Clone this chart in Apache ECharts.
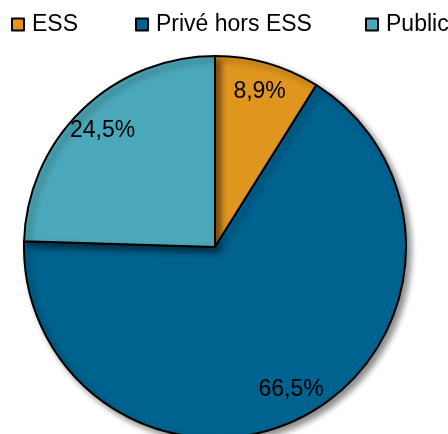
<!DOCTYPE html>
<html>
<head>
<meta charset="utf-8">
<script src="https://cdn.jsdelivr.net/npm/echarts@6/dist/echarts.min.js"></script>
<style>
  html, body { margin: 0; padding: 0; background: #fff; }
  #chart { width: 448px; height: 434px; }
</style>
</head>
<body>
<div id="chart"></div>
<script>
// parts de l'emploi par secteur
const categories = ['ESS', 'Privé hors ESS', 'Public']
const values = [8.9, 66.5, 24.5]
const colors = ['#E0961E', '#00628F', '#4BA8BA']

const font = '"Liberation Sans", Arial, sans-serif'
const pieData = categories.map((name, i) => ({ name, value: values[i] }))
const legendLeft = [11, 135, 365]

const myChart = echarts.init(document.getElementById('chart'))

const option = {
  animation: false,
  color: colors,
  legend: categories.map((name, i) => ({
    data: [name],
    left: legendLeft[i],
    top: 13,
    padding: 0,
    icon: 'rect',
    itemWidth: 12,
    itemHeight: 12,
    itemGap: 0,
    itemStyle: { borderColor: '#000', borderWidth: 2 },
    textStyle: { fontFamily: font, fontSize: 23, color: '#000', padding: [0, 0, 0, 3] },
    selectedMode: false
  })),
  series: [
    {
      type: 'pie',
      center: [215, 247],
      radius: 191,
      startAngle: 90,
      clockwise: true,
      data: pieData,
      label: { show: false },
      labelLine: { show: false },
      emphasis: { disabled: true },
      itemStyle: {
        borderColor: '#000',
        borderWidth: 2,
        shadowColor: 'rgba(0,0,0,0.45)',
        shadowBlur: 6,
        shadowOffsetX: 4,
        shadowOffsetY: 4
      }
    },
    {
      // serie transparente pour placer les etiquettes vers le bord
      type: 'pie',
      center: [215, 247],
      radius: [126, 191],
      startAngle: 90,
      clockwise: true,
      silent: true,
      data: pieData,
      itemStyle: { color: 'transparent' },
      emphasis: { disabled: true },
      labelLine: { show: false },
      label: {
        show: true,
        position: 'inside',
        fontFamily: font,
        fontSize: 23,
        color: '#000',
        formatter: p => p.value.toFixed(1).replace('.', ',') + '%'
      }
    }
  ]
}

myChart.setOption(option)
</script>
</body>
</html>
